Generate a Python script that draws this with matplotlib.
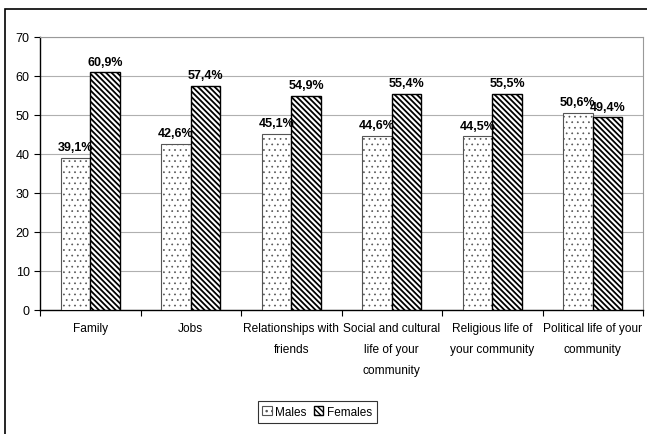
import numpy as np
import matplotlib
matplotlib.use("Agg")
from matplotlib import pyplot as plt
from matplotlib.patches import Rectangle

# DATOS
categorias = ["Family", "Jobs", "Relationships with\nfriends",
              "Social and cultural\nlife of your\ncommunity",
              "Religious life of\nyour community",
              "Political life of your\ncommunity"]
hombres = [39.1, 42.6, 45.1, 44.6, 44.5, 50.6]
mujeres = [60.9, 57.4, 54.9, 55.4, 55.5, 49.4]
yticks = [0, 10, 20, 30, 40, 50, 60, 70]

plt.rcParams['font.family'] = ['Liberation Sans', 'DejaVu Sans']

fig = plt.figure(figsize=(6.47, 4.35), dpi=100)
ax = fig.add_axes([40 / 647, 1 - 311 / 435, 603 / 647, 273 / 435])

# Marco exterior del grafico
fig.patches.append(Rectangle((5 / 647, -0.1), 1.2, 1 - 10 / 435 + 0.1,
                             transform=fig.transFigure, fill=False,
                             edgecolor='black', linewidth=1.2))

x = np.arange(len(categorias))
ancho = 0.295

b1 = ax.bar(x - ancho / 2, hombres, ancho, color='white', edgecolor='#555555',
            hatch='...', linewidth=0.8, label='Males', zorder=3)
b2 = ax.bar(x + ancho / 2, mujeres, ancho, color='white', edgecolor='black',
            hatch='\\\\\\\\\\\\', linewidth=1.0, label='Females', zorder=3)
for b in b1:
    b.set_hatch_linewidth(0.5)
for b in b2:
    b.set_hatch_linewidth(1.3)

for barras, vals in [(b1, hombres), (b2, mujeres)]:
    for b, v in zip(barras, vals):
        ax.text(b.get_x() + b.get_width() / 2, v + 1.2,
                ("%.1f%%" % v).replace('.', ','), ha='center', va='bottom',
                fontsize=9, fontweight='bold')

ax.set_xlim(-0.5, len(categorias) - 0.5)
ax.set_ylim(0, 70)
ax.set_yticks(yticks)
ax.tick_params(axis='y', labelsize=9, length=4, direction='out', width=0.8)
ax.set_xticks(np.arange(len(categorias) + 1) - 0.5)
ax.set_xticklabels([])
ax.tick_params(axis='x', length=4, direction='out', width=0.8)
for i, c in enumerate(categorias):
    ax.text(i, -3.2, c, ha='center', va='top', fontsize=8.6, linespacing=2.0)

ax.grid(axis='y', color='#b0b0b0', linewidth=0.8, zorder=0)
ax.spines['top'].set_color('#999999')
ax.spines['right'].set_color('#999999')
ax.spines['left'].set_linewidth(1.0)
ax.spines['bottom'].set_linewidth(1.0)

leg = fig.legend(loc='center', bbox_to_anchor=(317 / 647, 1 - 413 / 435),
                 ncol=2, fontsize=8.5, frameon=True, fancybox=False,
                 edgecolor='black', handlelength=0.8, handleheight=0.8,
                 handletextpad=0.3, columnspacing=0.6, borderpad=0.4)
leg.get_frame().set_linewidth(0.8)

plt.savefig("out.png", dpi=100)
